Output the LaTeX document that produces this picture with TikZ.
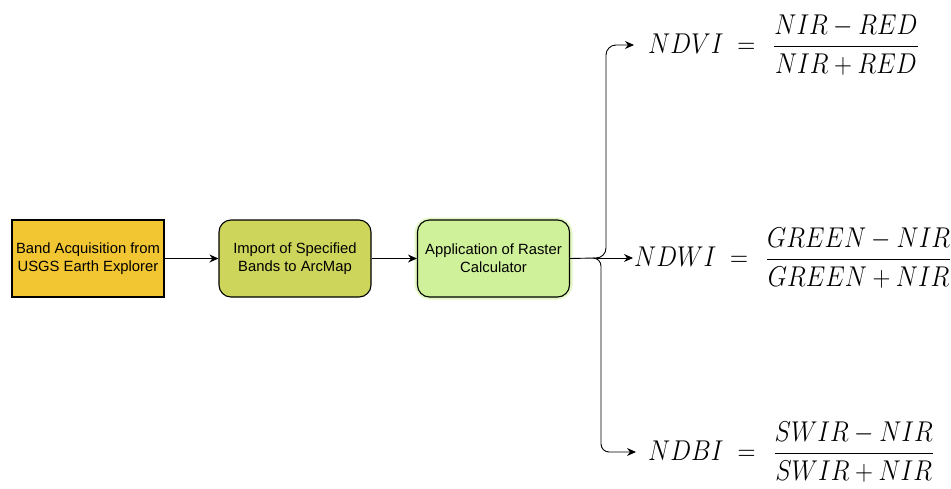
\documentclass[tikz,border=0pt]{standalone}
\usepackage{fontspec}
\usepackage{amsmath}
\usepackage{graphicx}
\newfontfamily\boxfont{Liberation Sans}
\usetikzlibrary{arrows.meta}
\definecolor{boxA}{HTML}{F2C533}
\definecolor{boxB}{HTML}{CDD65B}
\definecolor{boxC}{HTML}{CFF19A}
\definecolor{glowC}{HTML}{E2F7C4}
\tikzset{
  procbox/.style={draw=black, line width=1.1pt, minimum width=152pt, minimum height=77pt,
    align=center, font=\boxfont\fontsize{14.8}{18}\selectfont, inner sep=2pt},
  flow/.style={-{Stealth[length=9pt,width=8pt]}, line width=0.9pt},
  formula/.style={anchor=west, inner ysep=0pt, font=\fontsize{25}{30}\selectfont},
}
\newcommand{\tallmath}[1]{\scalebox{1}[1.15]{$\displaystyle #1$}}
\begin{document}
\begin{tikzpicture}[x=1pt,y=-1pt]
\useasboundingbox (0,0) rectangle (951,488);
\node[procbox, fill=boxA] (b1) at (88,258.5) {Band Acquisition from\\USGS Earth Explorer};
\node[procbox, fill=boxB, rounded corners=12pt] (b2) at (295,258.5) {Import of Specified\\Bands to ArcMap};
\draw[glowC, line width=5pt, rounded corners=13pt] (417,220) rectangle (570,297);
\node[procbox, fill=boxC, rounded corners=12pt] (b3) at (493.5,258.5) {Application of Raster\\Calculator};
\draw[flow] (b1) -- (b2);
\draw[flow] (b2) -- (b3);
\coordinate (j) at (595,258);
\node[formula, inner xsep=14pt] (ndvi) at (634,45) {\tallmath{NDVI \;=\;\, \frac{NIR - RED}{NIR + RED}}};
\node[formula, inner xsep=1pt] (ndwi) at (633,258) {\tallmath{NDWI \;=\;\, \frac{GREEN - NIR}{GREEN + NIR}}};
\node[formula, inner xsep=12pt] (ndbi) at (636,452) {\tallmath{NDBI \;=\;\, \frac{SWIR - NIR}{SWIR + NIR}}};
\draw[line width=0.9pt] (b3.east) -- (j);
\draw[flow, rounded corners=10pt] (j) -- (606,258) -- (606,45) -- (ndvi.west);
\draw[flow] (j) -- (ndwi.west);
\draw[flow, rounded corners=8pt] (j) -- (601,258) -- (601,452) -- (ndbi.west);
\end{tikzpicture}
\end{document}
